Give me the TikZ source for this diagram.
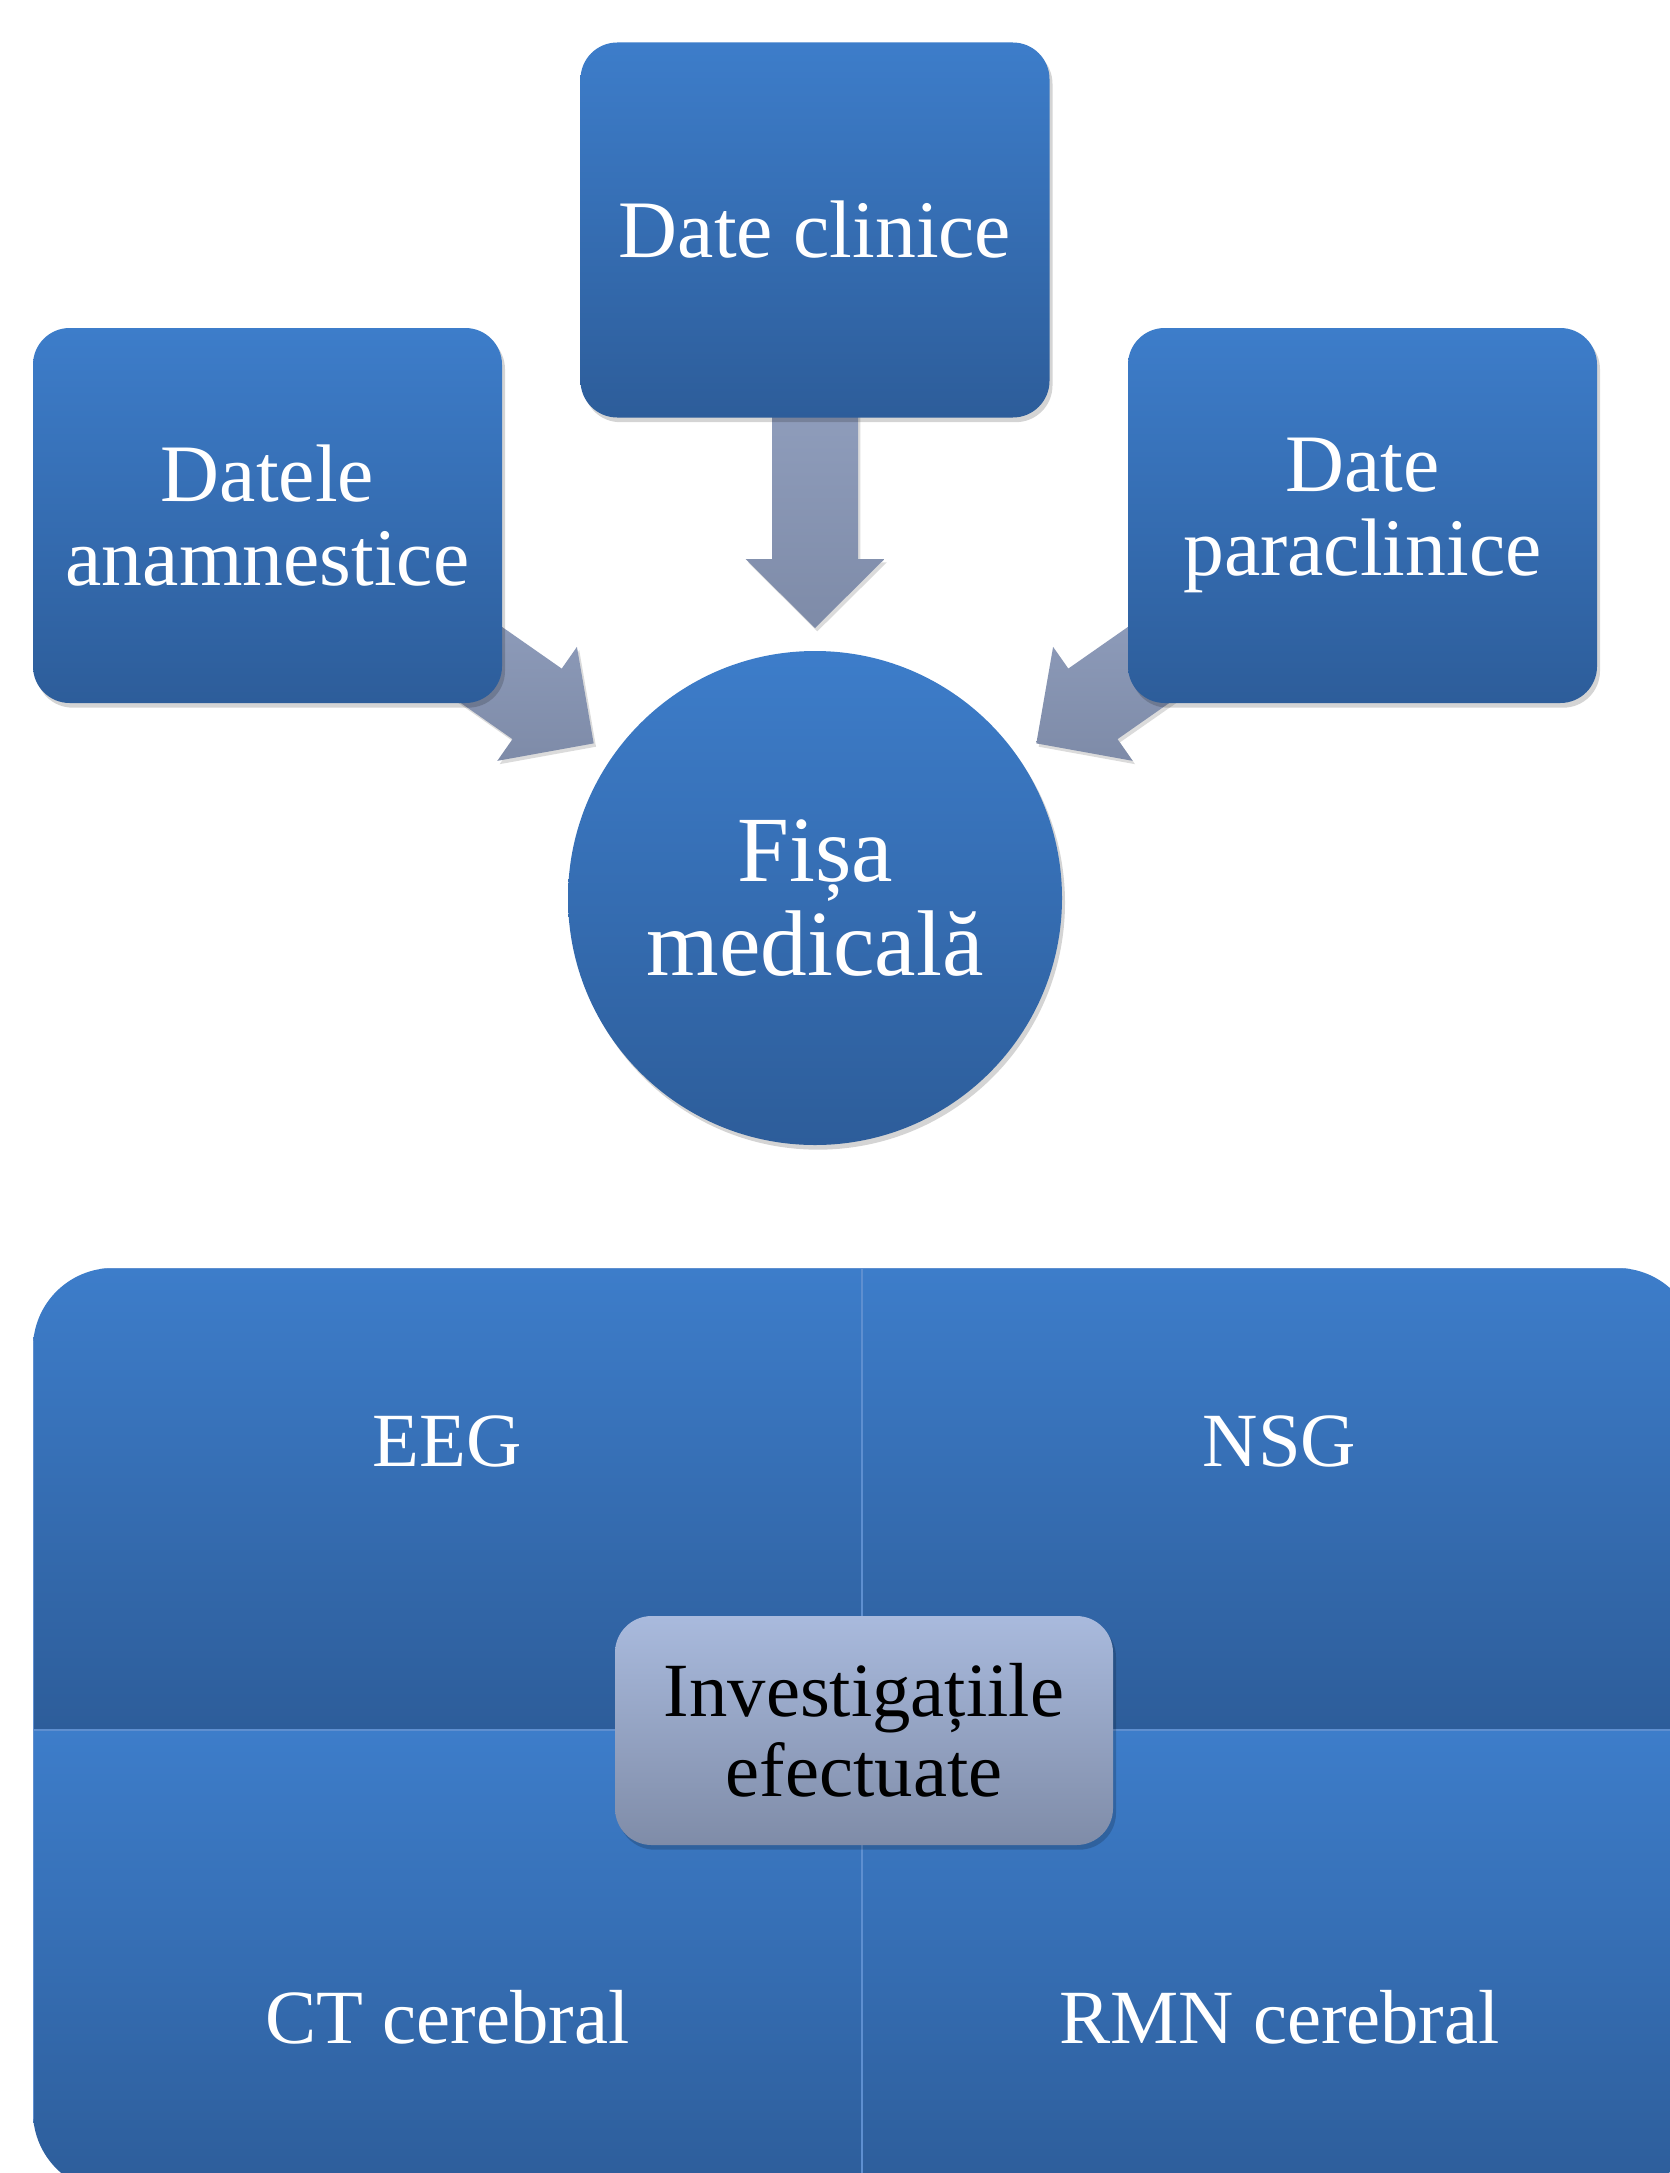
\documentclass[tikz,border=0pt]{standalone}
\usepackage{fontspec}
\setmainfont{Liberation Serif}
\usetikzlibrary{calc,shadows}
\definecolor{btop}{HTML}{3D7DCA}
\definecolor{bbot}{HTML}{2D5D9A}
\definecolor{atop}{HTML}{9CABCB}
\definecolor{abot}{HTML}{7E8BA8}
\definecolor{ctop}{HTML}{A9BADD}
\definecolor{cbot}{HTML}{7F8CA8}
\definecolor{seam}{HTML}{5E8FD0}
\pgfdeclarelayer{back}
\pgfdeclarelayer{bg}
\pgfsetlayers{back,bg,main}
\tikzset{
  softshadow/.style={drop shadow={shadow xshift=0.9pt, shadow yshift=-1.4pt, opacity=0.17, fill=black}},
  box/.style={rounded corners=11pt, top color=btop, bottom color=bbot,
    minimum width=140.7pt, minimum height=112.5pt, text=white, align=center,
    font=\fontsize{24.5}{25}\selectfont, inner sep=0pt, softshadow},
  roundnode/.style={circle, top color=btop, bottom color=bbot, minimum size=148.2pt,
    inner sep=0pt, text=white, align=center, font=\fontsize{28}{28.3}\selectfont, softshadow},
  arrowfill/.style={top color=atop, bottom color=abot,
    drop shadow={shadow xshift=0.7pt, shadow yshift=-1pt, opacity=0.14, fill=black}},
  quad/.style={top color=btop, bottom color=bbot, draw=seam, line width=0.5pt,
    minimum height=138.6pt, inner sep=0pt},
  quadtext/.style={text=white, font=\fontsize{23}{24}\selectfont, align=center},
  cbox/.style={rounded corners=11pt, top color=ctop, bottom color=cbot,
    minimum width=149.4pt, minimum height=68.7pt, text=black, align=center,
    font=\fontsize{23}{24}\selectfont, inner sep=0pt, softshadow}
}
\newcommand\blockarrow[2]{%
  \coordinate (bh) at ($(#2)!20.7pt!(#1)$);
  \path[arrowfill] ($(#1)!12.9pt!90:(#2)$) -- ($(bh)!12.9pt!-90:(#1)$)
    -- ($(bh)!20.85pt!-90:(#1)$) -- (#2) -- ($(bh)!20.85pt!90:(#1)$)
    -- ($(bh)!12.9pt!90:(#1)$) -- ($(#1)!12.9pt!-90:(#2)$) -- cycle;}
\begin{document}
\begin{tikzpicture}[x=0.3pt, y=-0.3pt]
\useasboundingbox (0,0) rectangle (1670,2173);
\begin{pgfonlayer}{back}
  \fill[white] (0,0) rectangle (1670,2173);
\end{pgfonlayer}
\clip (0,0) rectangle (1670,2173);

% top part
\node[box] (clin) at (815,230) {Date clinice};
\node[box] (anam) at (267.5,515.5) {Datele\\anamnestice};
\node[box] (para) at (1362.5,515.5) {Date\\paraclinice};
\node[roundnode] (fisa) at (815,898) {Fișa\\medicală};

\coordinate (tc) at ($(fisa.center)!81pt!(clin.center)$);
\coordinate (ta) at ($(fisa.center)!81pt!(anam.center)$);
\coordinate (tp) at ($(fisa.center)!81pt!(para.center)$);
\begin{pgfonlayer}{bg}
  \blockarrow{clin.center}{tc}
  \blockarrow{anam.center}{ta}
  \blockarrow{para.center}{tp}
\end{pgfonlayer}

% bottom matrix
\begin{scope}
  \clip[rounded corners=24pt] (33,1268) rectangle (1697,2192);
  \node[quad, minimum width=248.7pt] (q1) at (447.5,1499) {};
  \node[quad, minimum width=250.5pt] (q2) at (1279.5,1499) {};
  \node[quad, minimum width=248.7pt] (q3) at (447.5,1961) {};
  \node[quad, minimum width=250.5pt] (q4) at (1279.5,1961) {};
\end{scope}
\node[quadtext] (eeg) at ($(q1)+(0,-58)$) {EEG};
\node[quadtext] (nsg) at ($(q2)+(0,-58)$) {NSG};
\node[quadtext] (ct) at ($(q3)+(0,56)$) {CT cerebral};
\node[quadtext] (rmn) at ($(q4)+(0,56)$) {RMN cerebral};
\node[cbox] (inv) at (864,1730.5) {Investigațiile\\efectuate};
\end{tikzpicture}
\end{document}
